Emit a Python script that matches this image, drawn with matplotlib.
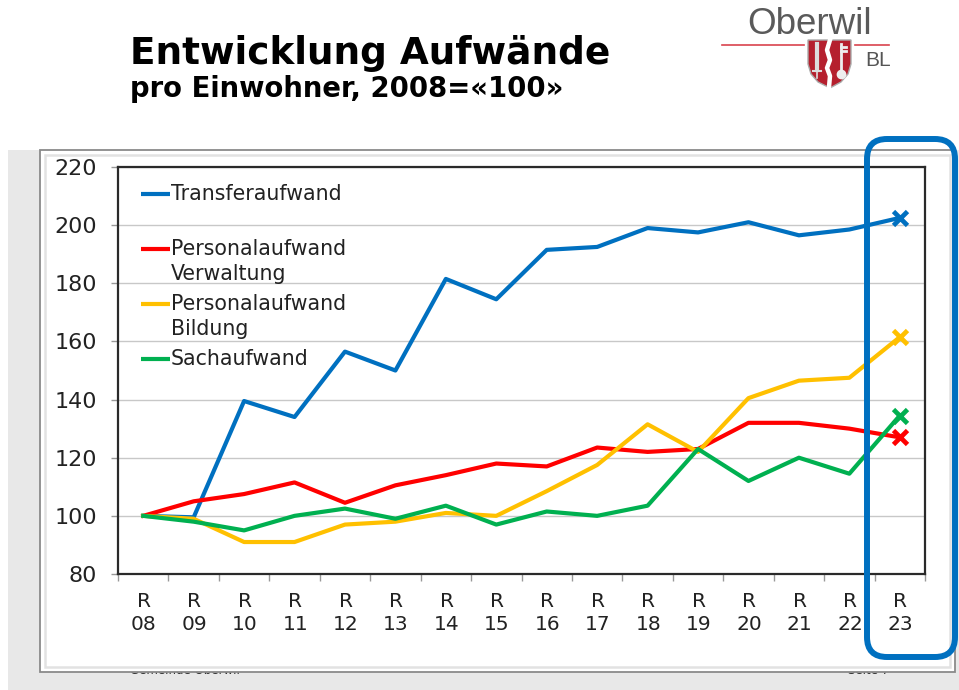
import matplotlib
matplotlib.use("Agg")
import matplotlib.pyplot as plt
from matplotlib.patches import Rectangle, FancyBboxPatch, Polygon

years = ["08", "09", "10", "11", "12", "13", "14", "15", "16", "17", "18", "19", "20", "21", "22", "23"]
transfer = [100, 99.5, 139.5, 134, 156.5, 150, 181.5, 174.5, 191.5, 192.5, 199, 197.5, 201, 196.5, 198.5, 202.5]
personal_verw = [100, 105, 107.5, 111.5, 104.5, 110.5, 114, 118, 117, 123.5, 122, 123, 132, 132, 130, 127]
personal_bild = [100, 99, 91, 91, 97, 98, 101, 100, 108.5, 117.5, 131.5, 122, 140.5, 146.5, 147.5, 161.5]
sach = [100, 98, 95, 100, 102.5, 99, 103.5, 97, 101.5, 100, 103.5, 123, 112, 120, 114.5, 134.5]
yticks = [80, 100, 120, 140, 160, 180, 200, 220]

BLUE, RED, YEL, GRN = "#0070c0", "#ff0000", "#ffc000", "#00b050"
W, H = 959, 690
plt.rcParams["font.family"] = "DejaVu Sans"
fig = plt.figure(figsize=(W / 100, H / 100), dpi=100, facecolor="white")

# pixel-space backdrop
bg = fig.add_axes([0, 0, 1, 1], zorder=0)
bg.set_xlim(0, W); bg.set_ylim(H, 0); bg.axis("off")
bg.add_patch(Rectangle((8, 150), W - 8, H - 150, fc="#e8e8e8", ec="none"))
bg.text(130, 671, "Gemeinde Oberwil", fontsize=8.5, color="#333333", va="center", ha="left")
bg.text(848, 671, "Seite 7", fontsize=8.5, color="#333333", va="center", ha="left")
bg.add_patch(Rectangle((40, 150), 915, 522, fc="white", ec="#8a8a8a", lw=1.3, zorder=3))
bg.add_patch(Rectangle((45, 155), 905, 512, fc="white", ec="#e2e2e2", lw=1.8, zorder=3))

bg.text(130, 53, "Entwicklung Aufwände", fontsize=26.9, fontweight="bold", color="black", va="center")
bg.text(130, 89, "pro Einwohner, 2008=«100»", fontsize=19.8, fontweight="bold", color="black", va="center")

# logo
bg.text(810, 24, "Oberwil", fontsize=26.5, color="#5a5a5a", family="Liberation Sans", va="center", ha="center")
bg.plot([722, 804], [44.5, 44.5], color="#d9434e", lw=1.2)
bg.plot([855, 889], [44.5, 44.5], color="#d9434e", lw=1.2)
bg.add_patch(Polygon([(808, 40), (851, 40), (851, 64), (848, 74), (841, 82), (830, 88), (818, 82), (811, 74), (808, 64)],
                     closed=True, fc="#b5202e", ec="#aaaaaa", lw=1))
bg.plot([830, 827, 830, 827, 830, 829], [40, 50, 60, 68, 76, 87], color="white", lw=3.2)
bg.plot([817, 817], [44, 70], color="#dddddd", lw=3)
bg.plot([813, 821], [71, 71], color="#dddddd", lw=1.5)
bg.plot([817, 817], [71, 78], color="#dddddd", lw=1.2)
bg.plot([841, 841], [44, 72], color="#eeeeee", lw=2)
bg.plot([841, 846], [47, 47], color="#eeeeee", lw=2)
bg.plot([841, 846], [51, 51], color="#eeeeee", lw=2)
bg.plot([841], [74], marker="o", ms=6, color="#eeeeee")
bg.text(878.5, 60, "BL", fontsize=15, color="#555555", family="Liberation Sans", va="center", ha="center")

# chart
x0, x1, ytop, ybot = 118, 925, 167, 574
ax = fig.add_axes([x0 / W, 1 - ybot / H, (x1 - x0) / W, (ybot - ytop) / H], zorder=2)
ax.set_facecolor("none")
xs = list(range(len(years)))
ax.set_xlim(-0.5, len(years) - 0.5)
ax.set_ylim(80, 220)
ax.set_yticks(yticks)
ax.set_xticks([i - 0.5 for i in xs] + [len(years) - 0.5])
ax.set_xticklabels([])
ax.tick_params(axis="x", length=5, width=1, color="#999999")
ax.tick_params(axis="y", length=5, width=1, color="#999999", labelsize=16, labelcolor="#222222", pad=10)
ax.grid(axis="y", color="#c8c8c8", lw=1.0)
ax.set_axisbelow(True)
for s in ax.spines.values():
    s.set_color("#2a2a2a"); s.set_linewidth(1.6)
for i, y in zip(xs, years):
    ax.annotate(f"R\n{y}", (i, 80), xytext=(0.5, -13), textcoords="offset points", ha="center", va="top",
                fontsize=14.5, color="#222222", linespacing=1.27, annotation_clip=False)

for vals, c in [(transfer, BLUE), (personal_verw, RED), (personal_bild, YEL), (sach, GRN)]:
    ax.plot(xs, vals, color=c, lw=3.0, zorder=3)
for vals, c in [(transfer, BLUE), (personal_bild, YEL), (personal_verw, RED), (sach, GRN)]:
    ax.plot(xs[-1], vals[-1], marker="x", ms=10.5, mew=3.4, color=c, zorder=4)

# legend and highlight box, pixel space
fg = fig.add_axes([0, 0, 1, 1], zorder=5)
fg.set_xlim(0, W); fg.set_ylim(H, 0); fg.axis("off")
entries = [(194, 194, "Transferaufwand", BLUE), (249, 261.5, "Personalaufwand\nVerwaltung", RED),
           (304, 316.5, "Personalaufwand\nBildung", YEL), (359, 359, "Sachaufwand", GRN)]
for yl, yt, label, c in entries:
    fg.plot([141, 170], [yl, yl], color=c, lw=3.0, solid_capstyle="butt")
    fg.text(171, yt, label, fontsize=14.8, color="#222222", va="center", ha="left", linespacing=1.3)
R = 20
fg.add_patch(FancyBboxPatch((867 + R, 139 + R), 88 - 2 * R, 518 - 2 * R, boxstyle=f"round,pad={R},rounding_size={R}",
                            fc="none", ec=BLUE, lw=4.3))
fig.savefig("out.png", dpi=100)
